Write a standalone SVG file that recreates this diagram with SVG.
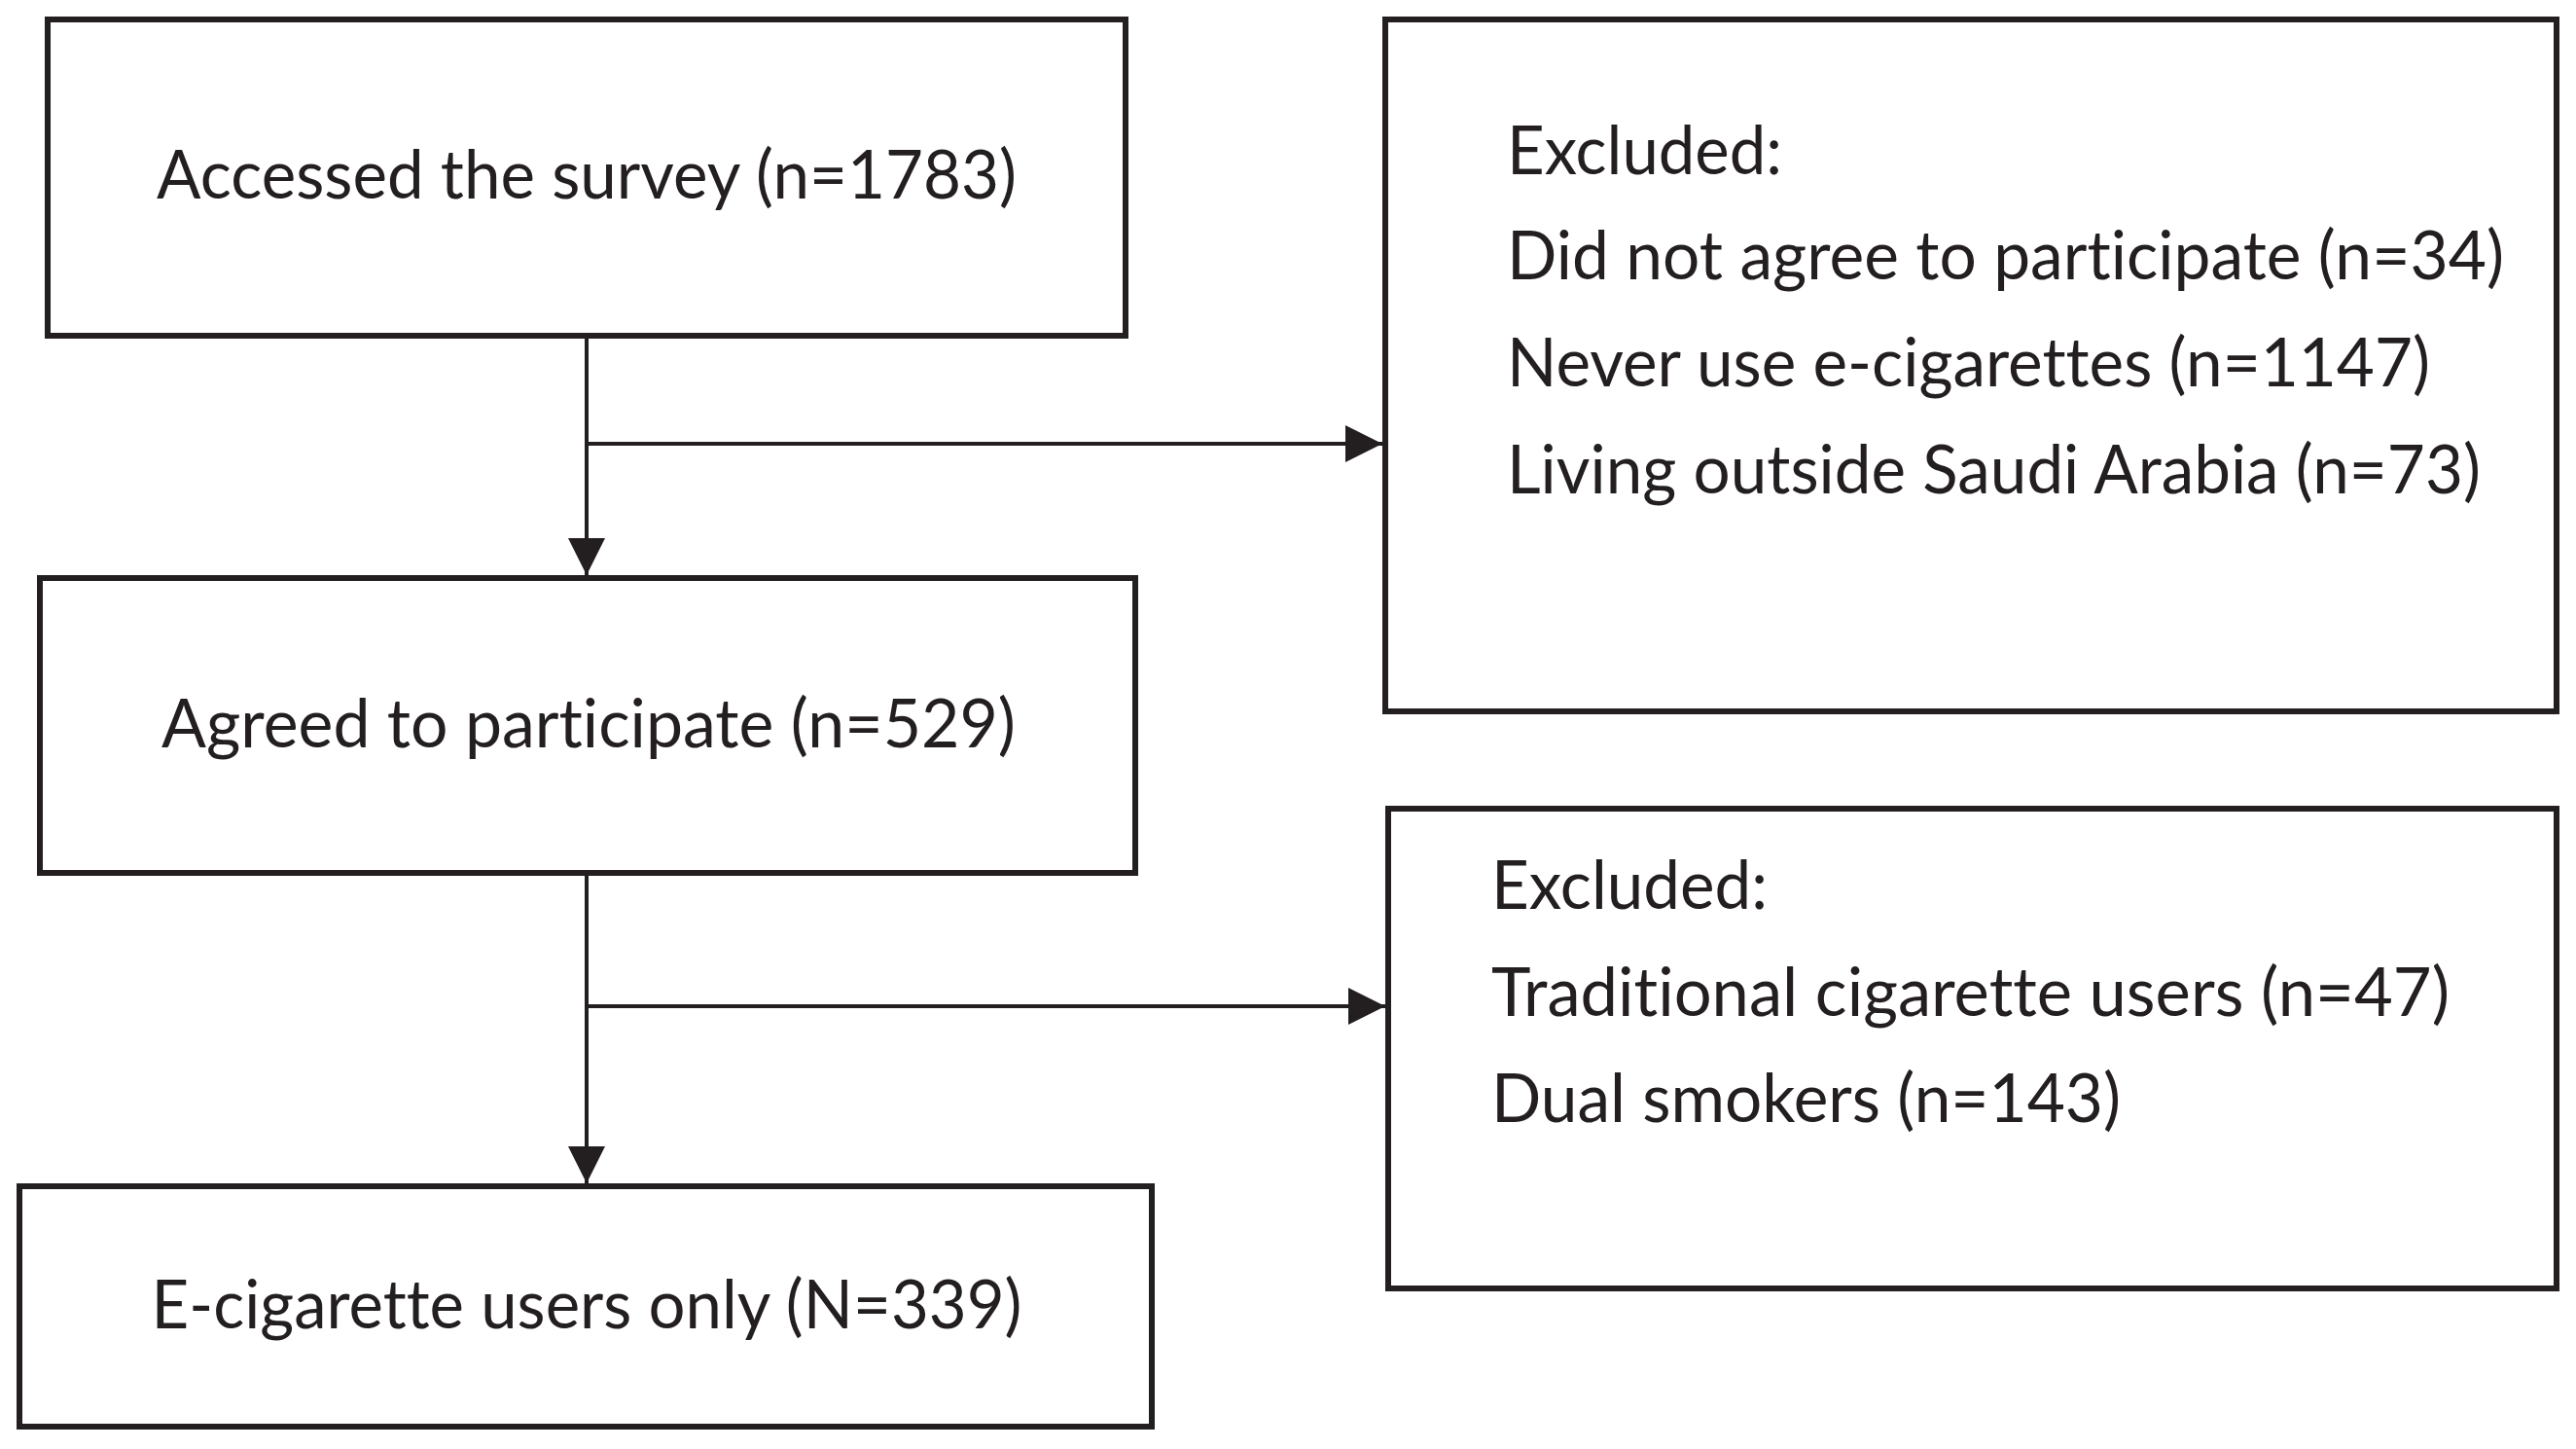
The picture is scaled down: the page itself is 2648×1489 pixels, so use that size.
<svg xmlns="http://www.w3.org/2000/svg" width="2648" height="1489" viewBox="0 0 2648 1489">
<defs>
<style>
.box{fill:#fff;stroke:#231f20;stroke-width:6}
.ln{fill:none;stroke:#231f20;stroke-width:4}
text{font-family:Lato,"Open Sans",sans-serif;font-size:70px;fill:#231f20;font-variant-ligatures:none}
.c{text-anchor:middle}
</style>
<marker id="ah" viewBox="0 0 10 10" refX="10" refY="5" markerUnits="userSpaceOnUse" markerWidth="38" markerHeight="38" orient="auto">
<path d="M0,0 L10,5 L0,10 Z" fill="#231f20"/>
</marker>
</defs>
<rect width="2648" height="1489" fill="#fff"/>
<g id="connectors">
<line class="ln" x1="603" y1="345" x2="603" y2="591" marker-end="url(#ah)"/>
<line class="ln" x1="603" y1="456" x2="1421" y2="456" marker-end="url(#ah)"/>
<line class="ln" x1="603" y1="897" x2="603" y2="1216" marker-end="url(#ah)"/>
<line class="ln" x1="603" y1="1034" x2="1424" y2="1034" marker-end="url(#ah)"/>
</g>
<g id="accessed">
<rect class="box" x="49" y="20" width="1108" height="325"/>
<text class="c" x="603" y="204" textLength="884" lengthAdjust="spacingAndGlyphs">Accessed the survey (n=1783)</text>
</g>
<g id="excluded1">
<rect class="box" x="1424" y="20" width="1204" height="711"/>
<text x="1549" y="179" textLength="283" lengthAdjust="spacingAndGlyphs">Excluded:</text>
<text x="1549" y="287" textLength="1025" lengthAdjust="spacingAndGlyphs">Did not agree to participate (n=34)</text>
<text x="1549" y="397" textLength="949" lengthAdjust="spacingAndGlyphs">Never use e-cigarettes (n=1147)</text>
<text x="1549" y="507" textLength="1001" lengthAdjust="spacingAndGlyphs">Living outside Saudi Arabia (n=73)</text>
</g>
<g id="agreed">
<rect class="box" x="41" y="594" width="1126" height="303"/>
<text class="c" x="605" y="768" textLength="878" lengthAdjust="spacingAndGlyphs">Agreed to participate (n=529)</text>
</g>
<g id="excluded2">
<rect class="box" x="1427" y="831" width="1201" height="493"/>
<text x="1533" y="934" textLength="284" lengthAdjust="spacingAndGlyphs">Excluded:</text>
<text x="1533" y="1044" textLength="985" lengthAdjust="spacingAndGlyphs">Traditional cigarette users (n=47)</text>
<text x="1533" y="1153" textLength="647" lengthAdjust="spacingAndGlyphs">Dual smokers (n=143)</text>
</g>
<g id="ecig">
<rect class="box" x="20" y="1219" width="1164" height="247"/>
<text class="c" x="603" y="1365" textLength="895" lengthAdjust="spacingAndGlyphs">E-cigarette users only (N=339)</text>
</g>
</svg>
